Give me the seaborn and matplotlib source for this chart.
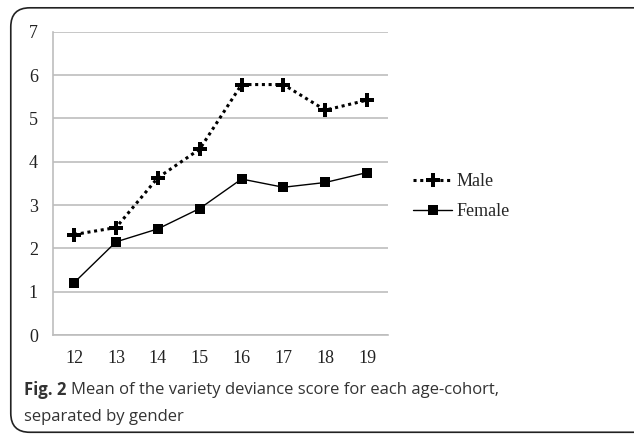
import pandas as pd
import matplotlib.pyplot as plt
import seaborn as sns
from matplotlib.patches import FancyBboxPatch

ages = [12, 13, 14, 15, 16, 17, 18, 19]
male = [2.32, 2.48, 3.63, 4.29, 5.78, 5.78, 5.19, 5.42]
female = [1.21, 2.15, 2.45, 2.92, 3.60, 3.41, 3.52, 3.75]
y_ticks = [0, 1, 2, 3, 4, 5, 6, 7]

df = pd.DataFrame({'Age': ages, 'Male': male, 'Female': female})

sns.set_style('white')
plt.rcParams['font.family'] = ['Liberation Serif', 'DejaVu Serif']

fig = plt.figure(figsize=(6.34, 4.34), dpi=100)
ax = fig.add_axes([0.084, 0.228, 0.528, 0.699])

# rounded frame around figure + caption
frame = FancyBboxPatch((0.017, 0.004), 1.2, 0.978, boxstyle='round,pad=0,rounding_size=0.03',
                       transform=fig.transFigure, fill=False, edgecolor='#222222', linewidth=1.2,
                       clip_on=False, mutation_aspect=634 / 434)
fig.patches.append(frame)

sns.lineplot(data=df, x='Age', y='Male', ax=ax, color='black', linestyle=(0, (1, 1.2)),
             linewidth=2.2, marker='P', markersize=10, markeredgewidth=0, label='Male')
sns.lineplot(data=df, x='Age', y='Female', ax=ax, color='black', linestyle='-',
             linewidth=1.0, marker='s', markersize=7, markeredgewidth=0, label='Female')

ax.set_xlim(11.5, 19.5)
ax.set_ylim(0, 7)
ax.set_yticks(y_ticks)
ax.set_xticks(ages)
ax.set_xticklabels([str(a) for a in ages])
ax.yaxis.grid(True, color='#bdbdbd', linewidth=1.2)
ax.xaxis.grid(False)
ax.set_axisbelow(True)
for s in ['top', 'right']:
    ax.spines[s].set_visible(False)
ax.spines['left'].set_color('#bdbdbd')
ax.spines['bottom'].set_color('#bdbdbd')
ax.spines['left'].set_linewidth(1.2)
ax.spines['bottom'].set_linewidth(1.2)
ax.tick_params(axis='both', length=0, labelsize=13, colors='#222222')
ax.tick_params(axis='x', pad=11)
ax.tick_params(axis='y', pad=11)
ax.set_xlabel('')
ax.set_ylabel('')

ax.legend(loc='center left', bbox_to_anchor=(0.651, 0.547), bbox_transform=fig.transFigure,
          frameon=False, fontsize=13, handlelength=2.2, handletextpad=0.25, labelspacing=0.75,
          borderpad=0, borderaxespad=0)

fig.text(0.038, 0.101, 'Fig. 2', fontsize=12, fontweight='bold', family=['Open Sans', 'DejaVu Sans'],
         color='#333333', va='center')
fig.text(0.112, 0.101, 'Mean of the variety deviance score for each age-cohort,', fontsize=12,
         family=['Open Sans', 'DejaVu Sans'], color='#333333', va='center')
fig.text(0.038, 0.039, 'separated by gender', fontsize=12,
         family=['Open Sans', 'DejaVu Sans'], color='#333333', va='center')

fig.savefig('out.png', dpi=100)
